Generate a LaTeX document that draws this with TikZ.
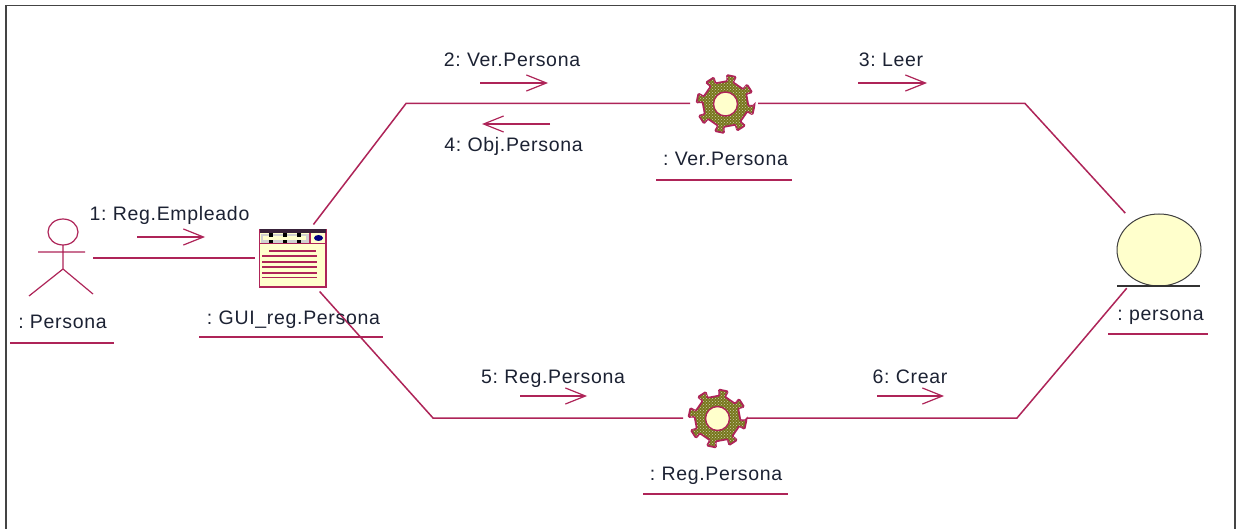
\documentclass[tikz,border=0pt]{standalone}
\usepackage{fontspec}
\setmainfont[LetterSpace=3.5,WordSpace=0.7]{Liberation Sans}
\usetikzlibrary{arrows.meta,patterns,shapes.geometric}
\definecolor{linkc}{HTML}{AE2458}
\definecolor{inkc}{HTML}{1C2233}
\definecolor{paper}{HTML}{FFFFCC}
\definecolor{gearc}{HTML}{77771C}
\definecolor{framec}{HTML}{444444}
\tikzset{
  link/.style={draw=linkc,line width=1.5pt},
  msg/.style={draw=linkc,line width=1.3pt,-{Straight Barb[length=20pt,width=16pt,line width=1.2pt]}},
  lbl/.style={text=inkc,font=\fontsize{19.5}{21}\selectfont,inner sep=0pt,anchor=base},
  under/.style={draw=linkc,line width=1.3pt},
  ghost/.style={inner sep=0pt,outer sep=0pt,minimum size=#1},
  pics/gearicon/.style={code={
    \fill[gearc,draw=linkc,line width=1.8pt,rounded corners=1pt]
      (-3:29pt) \foreach \a in {0,45,...,315}{
        -- (\a-3:29pt) -- (\a-5:23pt) -- (\a+26:23pt) -- (\a+24:29pt)
      } -- cycle;
    \fill[pattern=crosshatch dots,pattern color=white!65!gearc]
      (-3:28pt) \foreach \a in {0,45,...,315}{
        -- (\a-3:28pt) -- (\a-5:22pt) -- (\a+26:22pt) -- (\a+24:28pt)
      } -- cycle;
    \draw[linkc,fill=paper,line width=1.4pt] (0,0) circle[radius=12pt];
  }}
}
\begin{document}
\begin{tikzpicture}[x=1pt,y=-1pt]
\useasboundingbox (0,0) rectangle (1236,529);
\fill[white] (0,0) rectangle (1236,529);
% frame
\draw[framec,line width=1.5pt] (6,529) -- (6,5.5) -- (1235,5.5) -- (1235,529);

% invisible anchors for the elements
\node[ghost=1pt,minimum width=64pt,minimum height=77pt] (actor) at (61,258) {};
\node[ghost=1pt,minimum width=76pt,minimum height=67pt] (gui) at (292.5,258) {};
\node[ghost=68pt,circle] (ver) at (724,103.5) {};
\node[ghost=64pt,circle] (reg) at (715,418) {};
\node[ghost=100pt,circle] (pers) at (1159,250) {};
\coordinate (c1) at (406,103.5);
\coordinate (c2) at (1025,103.5);
\coordinate (c3) at (433,418);
\coordinate (c4) at (1017,418);

% links
\draw[link] (actor) -- (gui);
\draw[link] (gui.58) -- (c1) -- (ver);
\draw[link] (ver) -- (c2) -- (pers);
\draw[link] (gui.-51) -- (c3) -- (reg);
\draw[link] (reg) -- (c4) -- (pers);

% actor
\draw[linkc,line width=1.2pt] (63,232) ellipse[x radius=15pt,y radius=13pt];
\draw[linkc,line width=1.2pt] (63,245) -- (63,269) (38,252) -- (85,252)
  (29,296) -- (63,269) -- (93,294);

% GUI icon
\draw[linkc,fill=paper,line width=1.4pt] (259.5,229.5) rectangle (326,287);
\fill[inkc!80!linkc] (259.5,229.5) rectangle (326,233.5);
\fill[black!18] (261,234) rectangle (309,243);
\draw[linkc,line width=1.1pt] (259.5,243.5) -- (326,243.5) (310,233.5) -- (310,243.5);
\fill[paper] (263,236.5) rectangle (306,240.5);
\foreach \x in {271,285,299}{
  \fill[black] (\x-1.8,233.5) rectangle (\x+1.8,237);
  \fill[black] (\x-1.8,240) rectangle (\x+1.8,243.5);
}
\fill[blue!50!black] (318.5,238) ellipse[x radius=4.5pt,y radius=3pt];
\draw[linkc,line width=1.3pt] (269,251) -- (316,251)
  (262,256) -- (317,256) (262,262) -- (317,262) (262,267) -- (317,267)
  (262,273) -- (317,273) (262,277.5) -- (317,277.5);

% gears
\pic at (725.5,104) {gearicon};
\pic at (717.5,418.5) {gearicon};

% entity
\draw[black!75,fill=paper,line width=1pt] (1159,250) ellipse[x radius=42pt,y radius=36pt];
\draw[black!80,line width=1.2pt] (1117,286) -- (1200,286);

% messages
\coordinate (m1a) at (137,237); \coordinate (m1b) at (205,237);
\coordinate (m2a) at (480,83);  \coordinate (m2b) at (548,83);
\coordinate (m3a) at (858,83);  \coordinate (m3b) at (927,83);
\coordinate (m4a) at (550,124); \coordinate (m4b) at (482,124);
\coordinate (m5a) at (520,396); \coordinate (m5b) at (587,396);
\coordinate (m6a) at (877,396); \coordinate (m6b) at (944,396);
\draw[msg] (m1a) -- (m1b);
\draw[msg] (m2a) -- (m2b);
\draw[msg] (m3a) -- (m3b);
\draw[msg] (m4a) -- (m4b);
\draw[msg] (m5a) -- (m5b);
\draw[msg] (m6a) -- (m6b);

% labels
\node[lbl] (t1) at (169.5,221) {1: Reg.Empleado};
\node[lbl] (t2) at (512,67) {2: Ver.Persona};
\node[lbl] (t3) at (891,67) {3: Leer};
\node[lbl] (t4) at (513.5,152) {4: Obj.Persona};
\node[lbl] (t5) at (553,383) {5: Reg.Persona};
\node[lbl] (t6) at (910,383) {6: Crear};
\node[lbl] (n1) at (62.5,328) {: Persona};
\node[lbl] (n2) at (293.5,324) {: GUI\_reg.Persona};
\node[lbl] (n3) at (725.5,166) {: Ver.Persona};
\node[lbl] (n4) at (716,480) {: Reg.Persona};
\node[lbl] (n5) at (1160.5,320) {: persona};

% underlines
\draw[under] (10,343) -- (114,343);
\draw[under] (199,337) -- (383,337);
\draw[under] (656,180) -- (792,180);
\draw[under] (643,494) -- (788,494);
\draw[under] (1108,334) -- (1208,334);
\end{tikzpicture}
\end{document}
